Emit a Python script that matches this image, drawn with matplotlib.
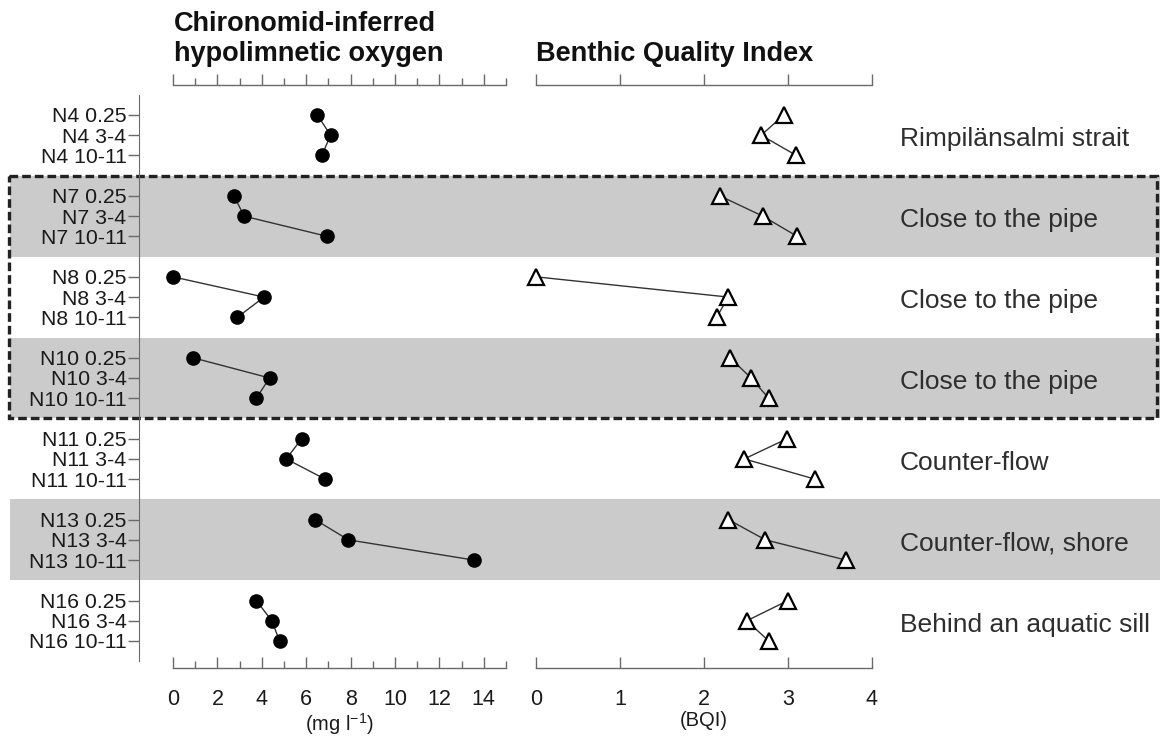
import matplotlib
matplotlib.use("Agg")
import matplotlib.pyplot as plt
from matplotlib.patches import Rectangle
from matplotlib.ticker import MultipleLocator

plt.rcParams["font.family"] = ["Liberation Sans", "DejaVu Sans"]
plt.rcParams["mathtext.default"] = "regular"

# --- data -------------------------------------------------------------
sites = ["N4", "N7", "N8", "N10", "N11", "N13", "N16"]
depths = ["0.25", "3-4", "10-11"]
site_notes = [
    "Rimpilänsalmi strait",
    "Close to the pipe",
    "Close to the pipe",
    "Close to the pipe",
    "Counter-flow",
    "Counter-flow, shore",
    "Behind an aquatic sill",
]
shaded_sites = ["N7", "N10", "N13"]
boxed_sites = ["N7", "N8", "N10"]

# chironomid-inferred hypolimnetic oxygen (mg l-1), per site, per depth
oxygen = [
    [6.5, 7.1, 6.7],
    [2.75, 3.2, 6.95],
    [0.0, 4.1, 2.9],
    [0.9, 4.35, 3.75],
    [5.8, 5.1, 6.85],
    [6.4, 7.9, 13.55],
    [3.75, 4.45, 4.8],
]
# benthic quality index
bqi = [
    [2.95, 2.68, 3.1],
    [2.19, 2.7, 3.11],
    [0.0, 2.29, 2.15],
    [2.31, 2.56, 2.77],
    [2.99, 2.48, 3.32],
    [2.29, 2.73, 3.69],
    [3.0, 2.51, 2.77],
]

# --- layout (pixels) ---------------------------------------------------
W, H = 1160, 742
AX_TOP, AX_BOT = 85, 668
ROW0, ROW_STEP = 115, 20.23
GROUP = 4  # 3 samples + 1 gap row

ylim = ((AX_BOT - ROW0) / ROW_STEP, -(ROW0 - AX_TOP) / ROW_STEP)
axis_grey = "#6a6a6a"
text_col = "#1a1a1a"


def fy(py):
    return 1 - py / H


fig = plt.figure(figsize=(W / 100, H / 100), dpi=100)
bottom, height = fy(AX_BOT), (AX_BOT - AX_TOP) / H

# background layer for shaded bands, dashed box and site notes
ax_bg = fig.add_axes([0, bottom, 1, height], zorder=0)
ax_bg.set_xlim(0, W)
ax_bg.set_ylim(*ylim)
ax_bg.axis("off")
for i, s in enumerate(sites):
    start = GROUP * i
    if s in shaded_sites:
        ax_bg.axhspan(start - 1, start + 3, xmin=10 / W, xmax=1,
                      color="#cbcbcb", lw=0)
    ax_bg.text(900, start + 1.2, site_notes[i], fontsize=19,
               va="center", ha="left", color="#2e2e2e")

box_idx = [sites.index(s) for s in boxed_sites]
y0 = GROUP * min(box_idx) - 1
y1 = GROUP * max(box_idx) + 3
ax_bg.add_patch(Rectangle((9, y0), W - 12, y1 - y0, fill=False,
                          ec="#222222", lw=2.4, ls=(0, (2.6, 1.2)),
                          clip_on=False))

ax_o = fig.add_axes([173 / W, bottom, (506 - 173) / W, height], zorder=2)
ax_b = fig.add_axes([536 / W, bottom, (872 - 536) / W, height], zorder=2)

ypos, ylabels = [], []
for i, s in enumerate(sites):
    ys = [GROUP * i + j for j in range(len(depths))]
    ypos += ys
    ylabels += [f"{s} {d}" for d in depths]
    ax_o.plot(oxygen[i], ys, color="#333333", lw=1.0, marker="o",
              ms=9.5, mfc="black", mec="black", clip_on=False)
    ax_b.plot(bqi[i], ys, color="#333333", lw=1.0, marker="^",
              ms=11, mfc="white", mec="black", mew=1.6, clip_on=False)

for ax, xmax, major, minor in [(ax_o, 15, 2, 1), (ax_b, 4, 1, None)]:
    ax.set_facecolor("none")
    ax.set_xlim(0, xmax)
    ax.set_ylim(*ylim)
    for side in ["top", "right", "left"]:
        ax.spines[side].set_visible(False)
    ax.spines["bottom"].set_color(axis_grey)
    ax.spines["bottom"].set_linewidth(1.0)
    ax.xaxis.set_major_locator(MultipleLocator(major))
    if minor:
        ax.xaxis.set_minor_locator(MultipleLocator(minor))
    ax.tick_params(axis="x", which="major", direction="in", length=8,
                   width=1.0, color=axis_grey, labelsize=15.5, pad=15,
                   labelcolor=text_col)
    ax.tick_params(axis="x", which="minor", direction="in", length=5,
                   width=1.0, color=axis_grey)
    ax.set_yticks([])

    top = ax.secondary_xaxis("top")
    top.xaxis.set_major_locator(MultipleLocator(major))
    if minor:
        top.xaxis.set_minor_locator(MultipleLocator(minor))
    top.spines["top"].set_color(axis_grey)
    top.spines["top"].set_linewidth(1.0)
    top.tick_params(axis="x", which="major", direction="out", length=8,
                    width=1.0, color=axis_grey, labeltop=False)
    top.tick_params(axis="x", which="minor", direction="out", length=5,
                    width=1.0, color=axis_grey)

# shared row axis drawn on the oxygen panel, shifted left
ax_o.spines["left"].set_visible(True)
ax_o.spines["left"].set_position(("outward", 24.5))
ax_o.spines["left"].set_bounds(-1, GROUP * len(sites) - 1)
ax_o.spines["left"].set_color(axis_grey)
ax_o.set_yticks(ypos, ylabels)
ax_o.tick_params(axis="y", direction="out", length=8, width=1.0,
                 color=axis_grey, labelsize=15.3, pad=1, labelcolor=text_col)

ax_o.set_xlabel("(mg l$^{-1}$)", fontsize=14.5, labelpad=1, color=text_col)
ax_b.set_xlabel("(BQI)", fontsize=14.5, labelpad=1, color=text_col)

fig.text(174 / W, fy(61), "Chironomid-inferred\nhypolimnetic oxygen",
         fontsize=19.5, fontweight="bold", ha="left", va="baseline",
         linespacing=1.18, color="#111111")
fig.text(536 / W, fy(61), "Benthic Quality Index", fontsize=19.5,
         fontweight="bold", ha="left", va="baseline", color="#111111")

fig.savefig("out.png", dpi=100)
